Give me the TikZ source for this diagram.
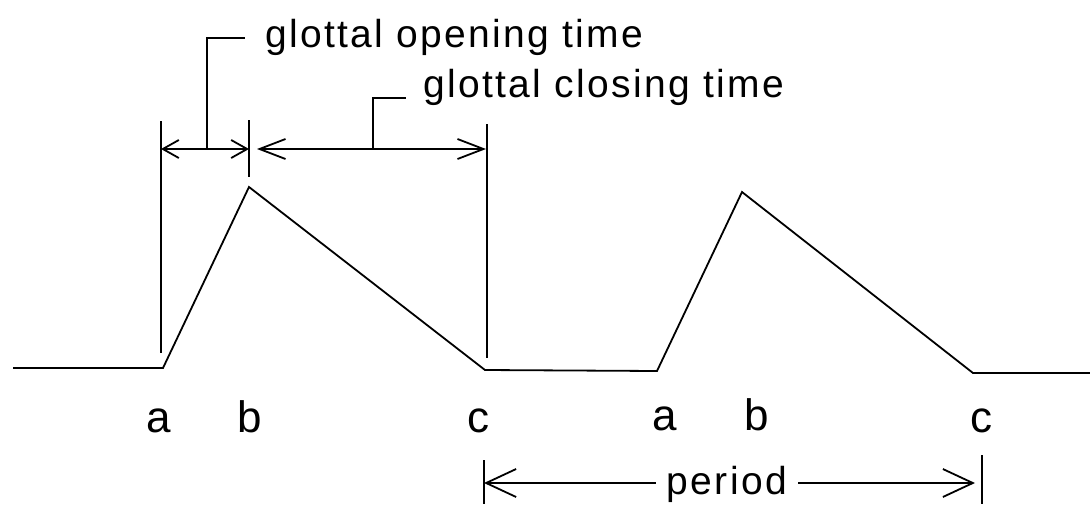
\documentclass[tikz,border=0pt]{standalone}
\usepackage{fontspec}
\setmainfont{Liberation Sans}
\newfontfamily\capfont[LetterSpace=6]{Liberation Sans}
\usetikzlibrary{arrows.meta}
\tikzset{
  wave/.style={line width=1.8pt,line join=miter},
  guide/.style={line width=1.8pt},
  dimA/.style={guide,{Straight Barb[length=16pt,width=18pt]}-{Straight Barb[length=16pt,width=18pt]}},
  dimB/.style={guide,{Straight Barb[length=26pt,width=20pt]}-{Straight Barb[length=26pt,width=20pt]}},
  perarr/.style={guide,-{Straight Barb[length=30pt,width=28pt]}},
  caption/.style={inner sep=0pt,font=\capfont\fontsize{39}{44}\selectfont},
  pt/.style={inner sep=0pt,font=\fontsize{44}{50}\selectfont},
}
\begin{document}
\begin{tikzpicture}[x=1pt,y=-1pt]
  \useasboundingbox (0,0) rectangle (1090,504);
  % waveform corners
  \coordinate (s0) at (13,368);
  \coordinate (a1) at (163,368);
  \coordinate (b1) at (249,187);
  \coordinate (c1) at (485,370);
  \coordinate (a2) at (657,371);
  \coordinate (b2) at (742,192);
  \coordinate (c2) at (973,373);
  \coordinate (e0) at (1090,373);
  \draw[wave] (s0) -- (a1) -- (b1) -- (c1) -- (a2) -- (b2) -- (c2) -- (e0);

  % extension lines
  \coordinate (ta) at (161,121);  \coordinate (ua) at (161,353);
  \coordinate (tb) at (249,120);  \coordinate (ub) at (249,177);
  \coordinate (tc) at (487,124);  \coordinate (uc) at (487,358);
  \draw[guide] (ta) -- (ua);
  \draw[guide] (tb) -- (ub);
  \draw[guide] (tc) -- (uc);

  % dimension arrows
  \coordinate (oa) at (161,149);  \coordinate (ob) at (249,149);
  \coordinate (ca) at (257,149);  \coordinate (cb) at (486,149);
  \draw[dimA] (oa) -- (ob);
  \draw[dimB] (ca) -- (cb);

  % leaders and captions
  \node[caption,anchor=base west] (open) at (265,47) {glottal opening time};
  \node[caption,anchor=base west] (close) at (423,97) {glottal closing time};
  \coordinate (lo1) at (207,149); \coordinate (lo2) at (207,38); \coordinate (lo3) at (245,38);
  \coordinate (lc1) at (373,149); \coordinate (lc2) at (373,98); \coordinate (lc3) at (406,98);
  \draw[guide] (lo1) -- (lo2) -- (lo3);
  \draw[guide] (lc1) -- (lc2) -- (lc3);

  % point names
  \node[pt,anchor=base] (la1) at (159,432) {a};
  \node[pt,anchor=base] (lb1) at (250,432) {b};
  \node[pt,anchor=base] (lc1n) at (478,432) {c};
  \node[pt,anchor=base] (la2) at (665,430) {a};
  \node[pt,anchor=base] (lb2) at (757,430) {b};
  \node[pt,anchor=base] (lc2n) at (981,432) {c};

  % period
  \coordinate (pa) at (484,460);  \coordinate (pb) at (484,504);
  \coordinate (qa) at (982,455);  \coordinate (qb) at (982,504);
  \coordinate (pl) at (484,483);  \coordinate (pr) at (975,483);
  \draw[guide] (pa) -- (pb);
  \draw[guide] (qa) -- (qb);
  \node[caption,anchor=base,inner xsep=11pt] (period) at (727,494) {period};
  \draw[perarr] (period.west |- pl) -- (pl);
  \draw[perarr] (period.east |- pr) -- (pr);
\end{tikzpicture}
\end{document}
